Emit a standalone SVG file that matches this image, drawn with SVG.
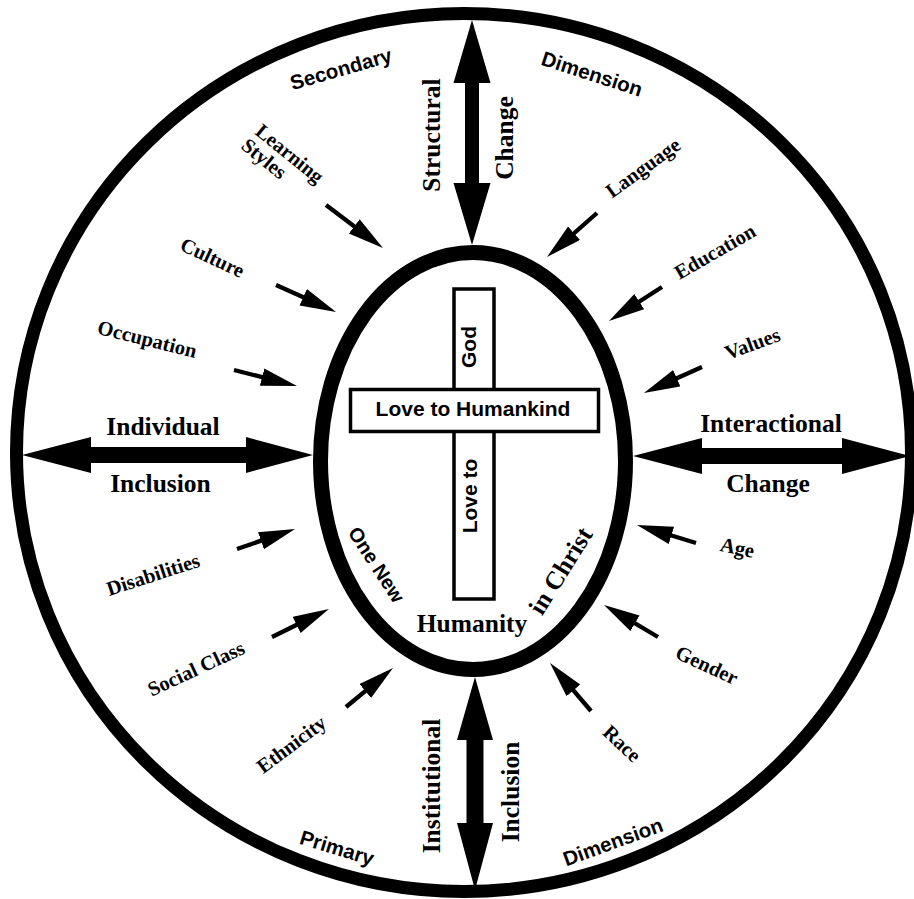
<svg xmlns="http://www.w3.org/2000/svg" width="914" height="899" viewBox="0 0 914 899">
<defs>
<style>
.sf{font-family:"Liberation Serif","Times New Roman",serif;font-weight:bold;fill:#000}
.ss{font-family:"Liberation Sans",Arial,sans-serif;font-weight:bold;fill:#000}
.sm{font-size:20.5px}
.lg{font-size:25.5px}
.ar{stroke:#000;stroke-width:4.3;fill:none;marker-end:url(#ah)}
</style>
<marker id="ah" markerUnits="userSpaceOnUse" markerWidth="38" markerHeight="20" refX="16" refY="9" orient="auto"><path d="M0,0 L36,9 L0,18 z" fill="#000"/></marker>
</defs>
<rect width="914" height="899" fill="#fff"/>
<g id="outer-circle"><ellipse cx="464" cy="452.5" rx="447.5" ry="439" fill="none" stroke="#000" stroke-width="13"/></g>
<g id="inner-ellipse"><ellipse cx="473" cy="461" rx="152.5" ry="208.5" fill="#fff" stroke="#000" stroke-width="15"/></g>
<g id="cross">
<rect x="454" y="289" width="40" height="310" fill="#fff" stroke="#000" stroke-width="3.5"/>
<rect x="350.5" y="389.5" width="248" height="42" fill="#fff" stroke="#000" stroke-width="3.5"/>
<text class="ss" font-size="21" x="473" y="416" text-anchor="middle">Love to Humankind</text>
<text class="ss" font-size="21" transform="translate(468,347) rotate(-90)" y="8" text-anchor="middle">God</text>
<text class="ss" font-size="21" transform="translate(469,496) rotate(-90)" y="8" text-anchor="middle">Love to</text>
</g>
<g id="center-labels">
<text class="ss" font-size="20" transform="translate(376.5,564.5) rotate(57)" y="7" text-anchor="middle">One New</text>
<text class="sf lg" x="472" y="632" text-anchor="middle">Humanity</text>
<text class="sf lg" transform="translate(561,571) rotate(-58)" y="8" text-anchor="middle">in Christ</text>
</g>
<g id="connectors">
<polygon id="arrow-structural" points="472,20 490.5,83 479,83 479,183 490.5,183 472,245 453.5,183 465,183 465,83 453.5,83" fill="#000"/>
<polygon id="arrow-institutional" points="475,677 493,740 483.5,740 483.5,823 493,823 475,890 457,823 466.5,823 466.5,740 457,740" fill="#000"/>
<polygon id="arrow-individual" points="22,455 91,437 91,447 246,447 246,437 313,455 246,473 246,463 91,463 91,473" fill="#000"/>
<polygon id="arrow-interactional" points="633,456 702,438 702,448 842,448 842,438 910,456 842,474 842,464 702,464 702,474" fill="#000"/>
<line class="ar" x1="326" y1="205" x2="367" y2="236"/>
<line class="ar" x1="597" y1="213" x2="562" y2="243.8"/>
<line class="ar" x1="276" y1="285" x2="317.8" y2="303.8"/>
<line class="ar" x1="662" y1="287" x2="625.8" y2="310.2"/>
<line class="ar" x1="234" y1="370" x2="277.6" y2="381.1"/>
<line class="ar" x1="702" y1="367" x2="662.2" y2="384.8"/>
<line class="ar" x1="237" y1="549" x2="276.1" y2="535.5"/>
<line class="ar" x1="696" y1="543" x2="656.1" y2="530.8"/>
<line class="ar" x1="272" y1="637" x2="311" y2="617.8"/>
<line class="ar" x1="658" y1="637" x2="621.2" y2="615.2"/>
<line class="ar" x1="346" y1="707" x2="377.6" y2="680.8"/>
<line class="ar" x1="591" y1="711" x2="563" y2="678.2"/>
</g>
<g id="dimension-labels">
<text class="ss" font-size="20.5" transform="translate(341,69) rotate(-16)" y="7" text-anchor="middle">Secondary</text>
<text class="ss" font-size="20.5" transform="translate(592,74) rotate(18)" y="7" text-anchor="middle">Dimension</text>
<text class="ss" font-size="20.5" transform="translate(337,848) rotate(17)" y="7" text-anchor="middle">Primary</text>
<text class="ss" font-size="20.5" transform="translate(613,842) rotate(-20)" y="7" text-anchor="middle">Dimension</text>
</g>
<g id="axis-labels">
<text class="sf lg" transform="translate(431,135) rotate(-90)" y="9" text-anchor="middle">Structural</text>
<text class="sf lg" transform="translate(507,138) rotate(-90)" y="6" text-anchor="middle">Change</text>
<text class="sf lg" transform="translate(431,786) rotate(-90)" y="9" text-anchor="middle">Institutional</text>
<text class="sf lg" transform="translate(511,792) rotate(-90)" y="8" text-anchor="middle">Inclusion</text>
<text class="sf lg" x="163" y="435" text-anchor="middle">Individual</text>
<text class="sf lg" x="160.5" y="492" text-anchor="middle">Inclusion</text>
<text class="sf lg" x="771" y="432" text-anchor="middle">Interactional</text>
<text class="sf lg" x="768" y="492" text-anchor="middle">Change</text>
</g>
<g id="factor-labels">
<text class="sf sm" transform="translate(288.5,155) rotate(39)" y="5" text-anchor="middle">Learning</text>
<text class="sf sm" transform="translate(263,160) rotate(39)" y="5" text-anchor="middle">Styles</text>
<text class="sf sm" transform="translate(212.5,257.5) rotate(25)" y="7" text-anchor="middle">Culture</text>
<text class="sf sm" transform="translate(147,340) rotate(14)" y="6" text-anchor="middle">Occupation</text>
<text class="sf sm" transform="translate(643.5,168.5) rotate(-36)" y="6" text-anchor="middle">Language</text>
<text class="sf sm" transform="translate(715,251.5) rotate(-30)" y="7" text-anchor="middle">Education</text>
<text class="sf sm" transform="translate(752.5,343.5) rotate(-20)" y="7" text-anchor="middle">Values</text>
<text class="sf sm" transform="translate(153,574.5) rotate(-18)" y="7" text-anchor="middle">Disabilities</text>
<text class="sf sm" transform="translate(196,668.5) rotate(-25)" y="7" text-anchor="middle">Social Class</text>
<text class="sf sm" transform="translate(292.5,746) rotate(-37)" y="5" text-anchor="middle">Ethnicity</text>
<text class="sf sm" transform="translate(737,549.5) rotate(12)" y="5" text-anchor="middle">Age</text>
<text class="sf sm" transform="translate(707,665) rotate(25)" y="7" text-anchor="middle">Gender</text>
<text class="sf sm" transform="translate(622,743.5) rotate(43)" y="7" text-anchor="middle">Race</text>
</g>
</svg>
